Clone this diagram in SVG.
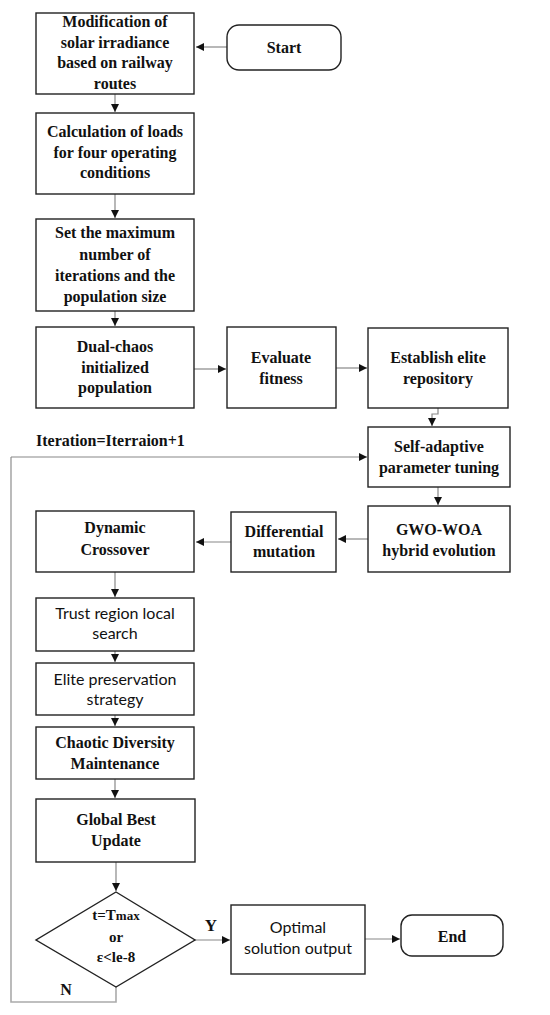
<svg xmlns="http://www.w3.org/2000/svg" width="550" height="1015" viewBox="0 0 550 1015">
<defs>
<marker id="ah" markerWidth="10" markerHeight="10" refX="8" refY="4" orient="auto" markerUnits="userSpaceOnUse">
<path d="M0,0 L8,4 L0,8 Z" fill="#111"/>
</marker>
<style>
.box{fill:#fff;stroke:#222;stroke-width:1.4}
.t{font-family:'Liberation Serif','Times New Roman',Times,serif;font-weight:bold;font-size:16px;fill:#111;text-anchor:middle}
.s{font-family:Lato,'Liberation Sans',sans-serif;font-size:16px;fill:#111;text-anchor:middle}
.ca{fill:none;stroke:#888;stroke-width:1.2;marker-end:url(#ah)}
.lp{fill:none;stroke:#aaa;stroke-width:1.6}
</style>
</defs>
<rect width="550" height="1015" fill="#fff"/>
<g id="connectors">
<line class="ca" x1="227" y1="47" x2="196" y2="47"/>
<line class="ca" x1="115" y1="94" x2="115" y2="112"/>
<line class="ca" x1="115" y1="194" x2="115" y2="218"/>
<line class="ca" x1="115" y1="311" x2="115" y2="326"/>
<line class="ca" x1="194" y1="369" x2="226" y2="369"/>
<line class="ca" x1="336" y1="368" x2="367" y2="368"/>
<polyline class="ca" points="438,408 438,414 432,414 432,426"/>
<polyline class="lp" points="116,987 116,1002 11,1002 11,457"/>
<line class="ca" x1="11" y1="457" x2="367" y2="457"/>
<line class="ca" x1="438" y1="487" x2="438" y2="505"/>
<line class="ca" x1="368" y1="539" x2="338" y2="539"/>
<line class="ca" x1="231" y1="542" x2="196" y2="542"/>
<line class="ca" x1="115" y1="572" x2="115" y2="597"/>
<line class="ca" x1="115" y1="651" x2="115" y2="662"/>
<line class="ca" x1="115" y1="715" x2="115" y2="726"/>
<line class="ca" x1="115" y1="779" x2="115" y2="798"/>
<line class="ca" x1="116" y1="862" x2="116" y2="891"/>
<line class="ca" x1="195" y1="940" x2="230" y2="940"/>
<line class="ca" x1="365" y1="939" x2="400" y2="939"/>
</g>
<g id="start"><rect class="box" x="227" y="25" width="114" height="45" rx="12"/><text class="t" x="284" y="53">Start</text></g>
<g id="n1"><rect class="box" x="36" y="13" width="158" height="81"/>
<text class="t" x="115" y="27">Modification of</text><text class="t" x="115" y="48">solar irradiance</text><text class="t" x="115" y="68">based on railway</text><text class="t" x="115" y="89">routes</text></g>
<g id="n2"><rect class="box" x="36" y="113" width="158" height="81"/>
<text class="t" x="115" y="137">Calculation of loads</text><text class="t" x="115" y="158">for four operating</text><text class="t" x="115" y="178">conditions</text></g>
<g id="n3"><rect class="box" x="36" y="219" width="158" height="92"/>
<text class="t" x="115" y="238">Set the maximum</text><text class="t" x="115" y="260">number of</text><text class="t" x="115" y="281">iterations and the</text><text class="t" x="115" y="302">population size</text></g>
<g id="n4"><rect class="box" x="36" y="327" width="158" height="81"/>
<text class="t" x="115" y="352">Dual-chaos</text><text class="t" x="115" y="373">initialized</text><text class="t" x="115" y="393">population</text></g>
<g id="n5"><rect class="box" x="227" y="327" width="109" height="81"/>
<text class="t" x="281" y="363">Evaluate</text><text class="t" x="281" y="384">fitness</text></g>
<g id="n6"><rect class="box" x="368" y="328" width="140" height="80"/>
<text class="t" x="438" y="363">Establish elite</text><text class="t" x="438" y="384">repository</text></g>
<g id="label-iter"><text class="t" x="36" y="446" style="text-anchor:start">Iteration=Iterraion+1</text></g>
<g id="n7"><rect class="box" x="368" y="427" width="142" height="60"/>
<text class="t" x="439" y="452">Self-adaptive</text><text class="t" x="439" y="473">parameter tuning</text></g>
<g id="n8"><rect class="box" x="368" y="506" width="142" height="66"/>
<text class="t" x="439" y="535">GWO-WOA</text><text class="t" x="439" y="556">hybrid evolution</text></g>
<g id="n9"><rect class="box" x="231" y="512" width="105" height="60"/>
<text class="t" x="284" y="537">Differential</text><text class="t" x="284" y="557">mutation</text></g>
<g id="n10"><rect class="box" x="36" y="511" width="158" height="61"/>
<text class="t" x="115" y="533">Dynamic</text><text class="t" x="115" y="555">Crossover</text></g>
<g id="n11"><rect class="box" x="36" y="598" width="158" height="53"/>
<text class="s" x="115" y="619">Trust region local</text><text class="s" x="115" y="639">search</text></g>
<g id="n12"><rect class="box" x="36" y="663" width="158" height="52"/>
<text class="s" x="115" y="685">Elite preservation</text><text class="s" x="115" y="705">strategy</text></g>
<g id="n13"><rect class="box" x="36" y="727" width="158" height="52"/>
<text class="t" x="115" y="748">Chaotic Diversity</text><text class="t" x="115" y="769">Maintenance</text></g>
<g id="n14"><rect class="box" x="36" y="799" width="159" height="63"/>
<text class="t" x="116" y="825">Global Best</text><text class="t" x="116" y="846">Update</text></g>
<g id="n15"><polygon class="box" points="116,892 195,940 116,987 36,940"/>
<text class="t" x="116" y="920" style="font-size:15px">t=T<tspan style="font-size:13px">max</tspan></text>
<text class="t" x="116" y="942" style="font-size:15px">or</text>
<text class="t" x="116" y="962" style="font-size:15px">ε&lt;le-8</text></g>
<g id="label-y"><text class="t" x="211" y="931" style="font-size:17px">Y</text></g>
<g id="label-n"><text class="t" x="66" y="995">N</text></g>
<g id="n16"><rect class="box" x="231" y="905" width="134" height="69"/>
<text class="s" x="298" y="933">Optimal</text><text class="s" x="298" y="954">solution output</text></g>
<g id="end"><rect class="box" x="401" y="915" width="102" height="41" rx="11"/><text class="t" x="452" y="942">End</text></g>
</svg>
